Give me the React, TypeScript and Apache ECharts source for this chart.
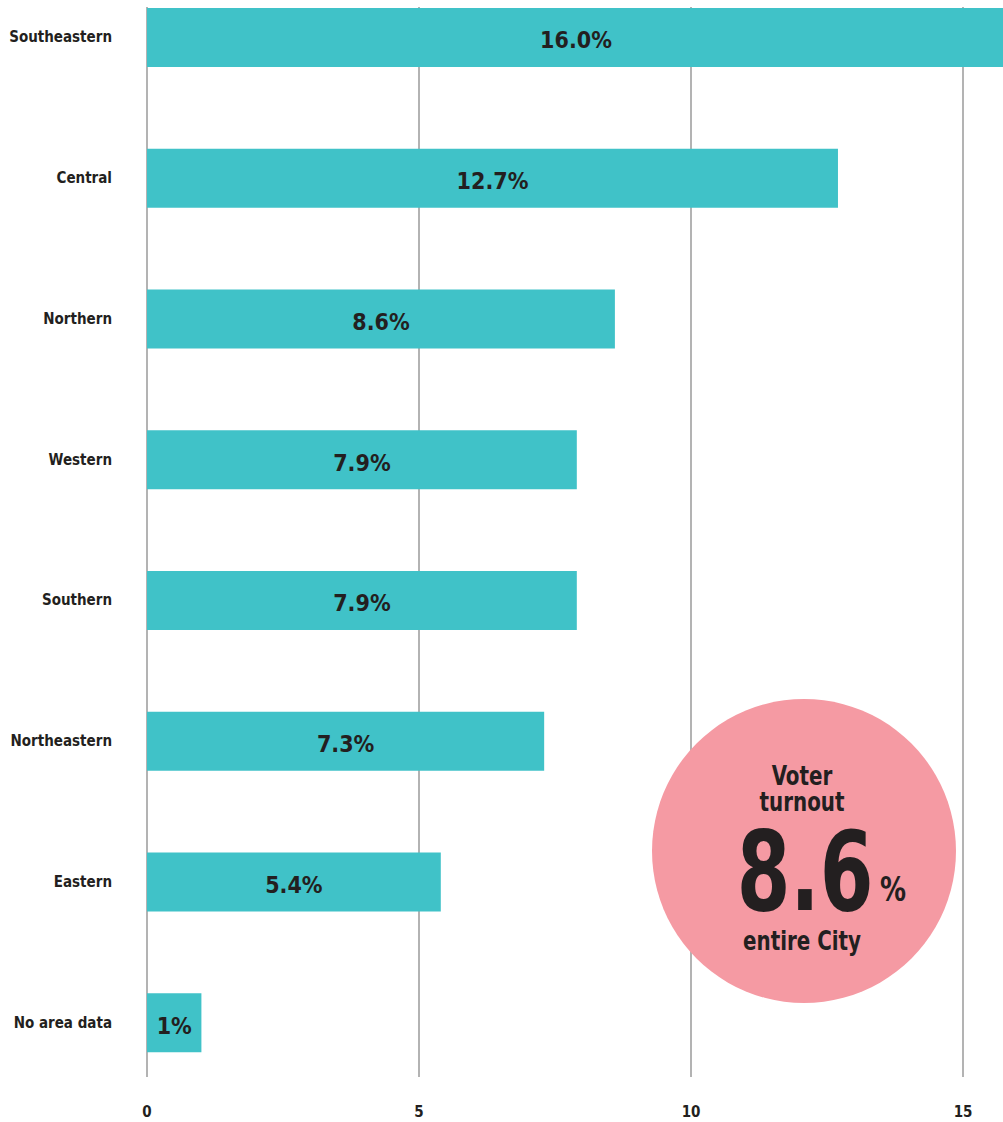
import React, { useEffect, useRef } from "react";
import * as echarts from "echarts";

const categories = ["Southeastern", "Central", "Northern", "Western", "Southern", "Northeastern", "Eastern", "No area data"];
const values = [16.0, 12.7, 8.6, 7.9, 7.9, 7.3, 5.4, 1.0];
const valueLabels = ["16.0%", "12.7%", "8.6%", "7.9%", "7.9%", "7.3%", "5.4%", "1%"];
const tickValues = [0, 5, 10, 15];
const cityTurnout = "8.6";

const FONT = "'DejaVu Sans Condensed', 'DejaVu Sans', sans-serif";
const DARK = "#231f20";
const X_MAX = 15.77;
const SHIFT = 33; // inner canvas offset above the page

export default function App() {
  const ref = useRef<HTMLDivElement>(null);
  useEffect(() => {
    if (!ref.current) return;
    const chart = echarts.init(ref.current, null, { renderer: "svg" });
    chart.setOption({
      animation: false,
      backgroundColor: "#ffffff",
      grid: [
        { left: 147, right: 5, top: 0, height: 1126, containLabel: false },
        { left: 147, right: 5, top: 7 + SHIFT, height: 1070, containLabel: false },
      ],
      xAxis: [
        { type: "value", gridIndex: 0, min: 0, max: X_MAX, show: false },
        {
          type: "value",
          gridIndex: 1,
          min: 0,
          max: X_MAX,
          interval: 5,
          axisLine: { show: false },
          axisTick: { show: false },
          splitLine: { show: true, lineStyle: { color: "#9a9a9a", width: 1.5 } },
          axisLabel: {
            show: true,
            margin: 27,
            showMaxLabel: false,
            fontFamily: FONT,
            fontWeight: "bold",
            fontSize: 15,
            color: DARK,
            formatter: (v: number) => (tickValues.includes(v) ? String(v) : ""),
          },
        },
      ],
      yAxis: [
        {
          type: "category",
          gridIndex: 0,
          data: categories,
          inverse: true,
          axisLine: { show: false },
          axisTick: { show: false },
          splitLine: { show: false },
          axisLabel: {
            margin: 35,
            fontFamily: FONT,
            fontWeight: "bold",
            fontSize: 15,
            color: DARK,
          },
        },
        { type: "value", gridIndex: 1, show: false },
      ],
      series: [
        {
          type: "bar",
          xAxisIndex: 0,
          yAxisIndex: 0,
          data: values,
          barWidth: 59,
          clip: true,
          itemStyle: { color: "#40c2c8" },
          label: {
            show: true,
            position: "inside",
            offset: [0, 3],
            fontFamily: FONT,
            fontWeight: 900,
            fontSize: 23,
            color: DARK,
            formatter: (p: any) => valueLabels[p.dataIndex],
          },
          z: 3,
        },
      ],
      graphic: [
        {
          type: "circle",
          shape: { cx: 804, cy: 851 + SHIFT, r: 152 },
          style: { fill: "#f59aa3" },
          z: 10,
        },
        {
          type: "text",
          x: 802,
          y: 776 + SHIFT,
          scaleX: 0.85,
          style: { text: "Voter", fontFamily: FONT, fontWeight: 600, fontSize: 26, fill: DARK, align: "center", verticalAlign: "middle" },
          z: 11,
        },
        {
          type: "text",
          x: 802,
          y: 802 + SHIFT,
          scaleX: 0.85,
          style: { text: "turnout", fontFamily: FONT, fontWeight: 600, fontSize: 26, fill: DARK, align: "center", verticalAlign: "middle" },
          z: 11,
        },
        {
          type: "text",
          x: 805,
          y: 872 + SHIFT,
          scaleX: 0.78,
          style: { text: cityTurnout, fontFamily: FONT, fontWeight: 900, fontSize: 110, fill: DARK, align: "center", verticalAlign: "middle" },
          z: 11,
        },
        {
          type: "text",
          x: 893,
          y: 889 + SHIFT,
          scaleX: 0.85,
          style: { text: "%", fontFamily: FONT, fontWeight: 900, fontSize: 34, fill: DARK, align: "center", verticalAlign: "middle" },
          z: 11,
        },
        {
          type: "text",
          x: 802,
          y: 941 + SHIFT,
          scaleX: 0.85,
          style: { text: "entire City", fontFamily: FONT, fontWeight: 600, fontSize: 26, fill: DARK, align: "center", verticalAlign: "middle" },
          z: 11,
        },
      ],
    });
    return () => chart.dispose();
  }, []);
  return (
    <div style={{ position: "absolute", left: 0, top: 0, width: 1003, height: 1122, overflow: "hidden", background: "#fff" }}>
      <div ref={ref} style={{ position: "absolute", left: 0, top: -SHIFT, width: 1010, height: 1160 }} />
    </div>
  );
}
